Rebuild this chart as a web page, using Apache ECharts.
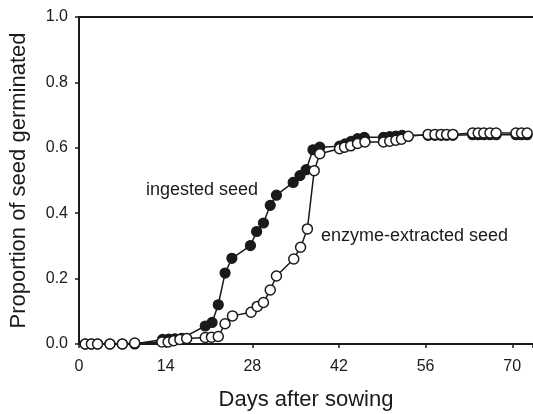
<!DOCTYPE html>
<html>
<head>
<meta charset="utf-8">
<script src="https://cdn.jsdelivr.net/npm/echarts@6/dist/echarts.min.js"></script>
<style>html,body{margin:0;padding:0;background:#fff}#c{width:533px;height:414px}</style>
</head>
<body>
<div id="c"></div>
<script>
var ingestedDays = [1,2,3,5,7,9,13.5,14.5,15.5,16.6,20.4,21.5,22.5,23.6,24.7,27.7,28.7,29.8,30.9,31.9,34.6,35.7,36.7,37.8,38.9,42.1,43.0,44.0,45.0,46.1,49.2,50.2,51.2,52.2,56.4,57.5,58.5,59.4,60.4,63.6,64.5,65.4,66.4,67.4,70.6,71.5,72.4];
var ingestedVals = [0,0,0,0,0,0,0.014,0.015,0.016,0.017,0.055,0.066,0.12,0.217,0.262,0.301,0.344,0.37,0.424,0.455,0.494,0.515,0.533,0.594,0.602,0.605,0.612,0.62,0.628,0.632,0.632,0.634,0.636,0.638,0.638,0.638,0.638,0.638,0.638,0.64,0.64,0.64,0.64,0.64,0.64,0.64,0.64];
var enzymeDays = [1,2,3,5,7,9,13.4,14.4,15.3,16.3,17.4,20.4,21.4,22.5,23.6,24.8,27.8,28.8,29.8,30.9,31.9,34.7,35.8,36.9,38.0,38.9,42.1,42.9,43.9,45.0,46.2,49.2,50.2,51.2,52.1,53.2,56.4,57.5,58.5,59.4,60.4,63.6,64.5,65.4,66.4,67.4,70.6,71.5,72.4];
var enzymeVals = [0,0,0,0,0,0.003,0.006,0.006,0.01,0.014,0.017,0.02,0.021,0.023,0.062,0.086,0.097,0.115,0.127,0.165,0.208,0.26,0.296,0.352,0.53,0.582,0.597,0.602,0.606,0.613,0.618,0.618,0.62,0.623,0.626,0.635,0.641,0.641,0.641,0.641,0.641,0.645,0.645,0.645,0.645,0.645,0.645,0.645,0.645];
var xTicks = [0,14,28,42,56,70];
var yTicks = [0,0.2,0.4,0.6,0.8,1.0];
var labelIngested = 'ingested seed';
var labelEnzyme = 'enzyme-extracted seed';
var xTitle = 'Days after sowing';
var yTitle = 'Proportion of seed germinated';

function pairs(a,b){return a.map(function(d,i){return [d,b[i]];});}
var ink = '#1a1a1a';
var font = 'Liberation Sans, Arial, sans-serif';
var chart = echarts.init(document.getElementById('c'), null, {renderer:'canvas'});
chart.setOption({
  animation:false,
  backgroundColor:'#fff',
  grid:{left:79,right:0,top:17,bottom:70,containLabel:false,outerBoundsMode:'none'},
  xAxis:[{
    type:'value',min:0,max:73.35,interval:14,
    name:xTitle,nameLocation:'middle',nameGap:45,
    nameTextStyle:{fontSize:22,color:ink,fontFamily:font},
    axisLine:{show:true,onZero:false,lineStyle:{color:ink,width:2}},
    axisTick:{show:true,inside:false,length:4,lineStyle:{color:ink,width:1.5}},
    axisLabel:{color:ink,fontSize:16,fontFamily:font,margin:15,
      customValues:xTicks,formatter:function(v){return xTicks.indexOf(v)>=0?String(v):'';}},
    splitLine:{show:false}
  },{
    type:'value',position:'top',min:0,max:73.35,
    axisLine:{show:true,onZero:false,lineStyle:{color:ink,width:2}},
    axisTick:{show:false},axisLabel:{show:false},splitLine:{show:false}
  }],
  yAxis:{
    type:'value',min:0,max:1,interval:0.2,
    name:yTitle,nameLocation:'middle',nameGap:49,
    nameTextStyle:{fontSize:22,color:ink,fontFamily:font},
    axisLine:{show:true,onZero:false,lineStyle:{color:ink,width:2}},
    axisTick:{show:true,inside:false,length:4,lineStyle:{color:ink,width:1.5}},
    axisLabel:{color:ink,fontSize:16,fontFamily:font,margin:11,formatter:function(v){return v.toFixed(1);}},
    splitLine:{show:false}
  },
  series:[{
    type:'line',name:labelIngested,data:pairs(ingestedDays,ingestedVals),
    symbol:'circle',symbolSize:10,showAllSymbol:true,
    lineStyle:{color:ink,width:1.5},
    itemStyle:{color:ink,borderColor:ink,borderWidth:1.2},
    z:2
  },{
    type:'line',name:labelEnzyme,data:pairs(enzymeDays,enzymeVals),
    symbol:'circle',symbolSize:10,showAllSymbol:true,
    lineStyle:{color:ink,width:1.5},
    itemStyle:{color:'#fff',borderColor:ink,borderWidth:1.5},
    z:3
  }],
  graphic:[
    {type:'text',left:146,top:181,style:{text:labelIngested,fontSize:18,fill:ink,fontFamily:font}},
    {type:'text',left:321,top:227,style:{text:labelEnzyme,fontSize:18,fill:ink,fontFamily:font}}
  ]
});
</script>
</body>
</html>
